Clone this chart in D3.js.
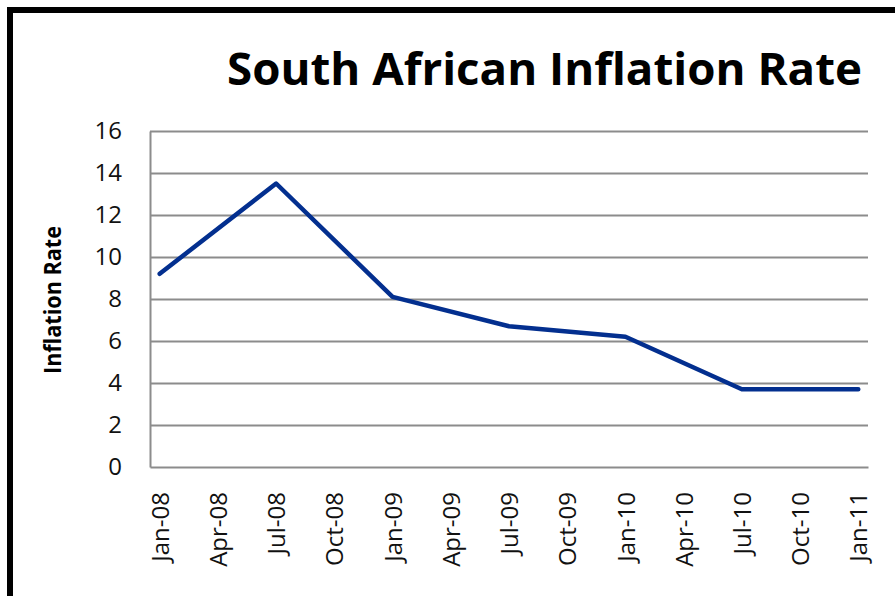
<!DOCTYPE html>
<html>
<head>
<meta charset="utf-8">
<script src="https://cdn.jsdelivr.net/npm/d3@7"></script>
<style>
  body { margin: 0; background: #fff; }
  svg { display: block; }
</style>
</head>
<body>
<div id="plot"></div>
<script>
// Chart data
var tickLabels = ["Jan-08", "Apr-08", "Jul-08", "Oct-08", "Jan-09", "Apr-09", "Jul-09",
                  "Oct-09", "Jan-10", "Apr-10", "Jul-10", "Oct-10", "Jan-11"];
var dates = ["Jan-08", "Jul-08", "Jan-09", "Jul-09", "Jan-10", "Jul-10", "Jan-11"];
var rates = [9.2, 13.5, 8.1, 6.7, 6.2, 3.7, 3.7];
var yTicks = [0, 2, 4, 6, 8, 10, 12, 14, 16];

var W = 895, H = 596;
var margin = {top: 131, right: 27, bottom: 129, left: 150},
    width = W - margin.left - margin.right,
    height = H - margin.top - margin.bottom;

var parse = d3.timeParse("%b-%y");
// month index counted from Jan-08 (Excel date axis, monthly base unit)
function monthIndex(label) {
  var d = parse(label);
  return (d.getFullYear() - 2008) * 12 + d.getMonth();
}

var svgRoot = d3.select("#plot")
  .append("svg")
    .attr("width", W)
    .attr("height", H);

svgRoot.append("rect")
  .attr("width", W).attr("height", H)
  .attr("fill", "#fff");

// black frame (only top and left visible)
svgRoot.append("rect")
  .attr("x", 10).attr("y", 10)
  .attr("width", W + 50).attr("height", H + 50)
  .attr("fill", "none")
  .attr("stroke", "#000")
  .attr("stroke-width", 6);

var svg = svgRoot.append("g")
  .attr("transform", `translate(${margin.left},${margin.top})`);

// Title
svgRoot.append("text")
  .attr("x", 227)
  .attr("y", 85)
  .attr("font-family", "'Open Sans', sans-serif")
  .attr("font-weight", "bold")
  .attr("font-size", 44)
  .attr("textLength", 635)
  .attr("lengthAdjust", "spacingAndGlyphs")
  .attr("fill", "#000")
  .text("South African Inflation Rate");

// Scales
var x = d3.scaleLinear()
  .domain([-0.5, monthIndex("Jan-11") + 0.5])
  .range([0, width]);

var y = d3.scaleLinear()
  .domain([0, 16])
  .range([height, 0]);

// Gridlines
svg.append("g")
  .attr("class", "grid")
  .call(d3.axisLeft(y).tickValues(yTicks.slice(1)).tickSize(-width).tickFormat(""))
  .call(g => g.select(".domain").remove())
  .call(g => g.selectAll("line").attr("stroke", "#8c8c8c").attr("stroke-width", 2));

// Y axis
svg.append("g")
  .call(d3.axisLeft(y).tickValues(yTicks).tickSize(0).tickPadding(28))
  .call(g => g.select(".domain").attr("stroke", "#8c8c8c").attr("stroke-width", 2))
  .call(g => g.selectAll("text")
    .attr("font-family", "'Open Sans', sans-serif")
    .attr("font-size", 24)
    .attr("fill", "#111"));

// X axis
svg.append("g")
  .attr("transform", `translate(0,${height})`)
  .call(d3.axisBottom(x)
    .tickValues(tickLabels.map(monthIndex))
    .tickFormat((d, i) => tickLabels[i])
    .tickSize(0))
  .call(g => g.select(".domain").attr("stroke", "#8c8c8c").attr("stroke-width", 2))
  .call(g => g.selectAll("text")
    .attr("font-family", "'Open Sans', sans-serif")
    .attr("font-size", 24)
    .attr("fill", "#111")
    .attr("text-anchor", "end")
    .attr("transform", "rotate(-90)")
    .attr("x", -25)
    .attr("y", 0)
    .attr("dy", "0.36em"));

// Y axis title
svgRoot.append("text")
  .attr("transform", "translate(61,300) rotate(-90)")
  .attr("text-anchor", "middle")
  .attr("font-family", "'Open Sans', sans-serif")
  .attr("font-weight", "bold")
  .attr("font-size", 24)
  .attr("textLength", 148)
  .attr("lengthAdjust", "spacingAndGlyphs")
  .attr("fill", "#000")
  .text("Inflation Rate");

// Line
var points = dates.map((d, i) => ({m: monthIndex(d), v: rates[i]}));
svg.append("path")
  .datum(points)
  .attr("fill", "none")
  .attr("stroke", "#032f8f")
  .attr("stroke-width", 4.5)
  .attr("stroke-linejoin", "round")
  .attr("stroke-linecap", "round")
  .attr("d", d3.line().x(d => x(d.m)).y(d => y(d.v)));
</script>
</body>
</html>
